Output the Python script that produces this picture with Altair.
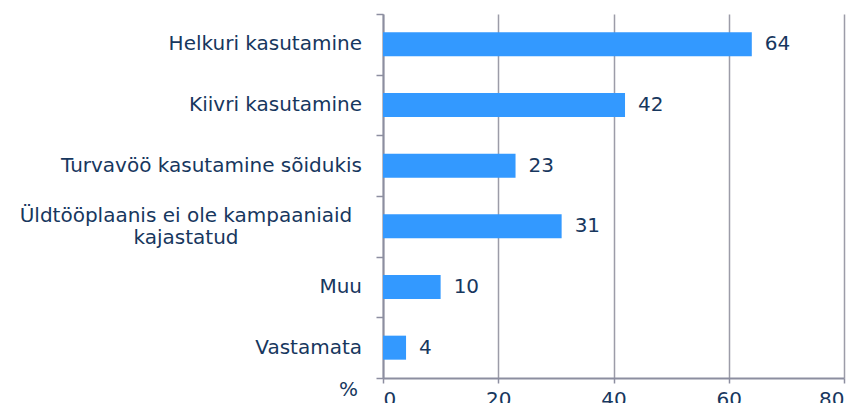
import altair as alt
import pandas as pd

categories = [
    "Helkuri kasutamine",
    "Kiivri kasutamine",
    "Turvavöö kasutamine sõidukis",
    "Üldtööplaanis ei ole kampaaniaid\nkajastatud",
    "Muu",
    "Vastamata",
]
values = [64, 42, 23, 31, 10, 4]
x_ticks = [0, 20, 40, 60, 80]

df = pd.DataFrame({"cat": categories, "val": values})
df["multi"] = df["cat"].str.contains("\n")

TEXT = "#17375E"
FONT = "DejaVu Sans"
FS = 20
AX = "#8C8EA0"

y = alt.Y("cat:N", sort=categories, title=None,
          scale=alt.Scale(paddingInner=0, paddingOuter=0),
          axis=alt.Axis(labels=False, tickBand="extent", domainColor=AX, tickColor=AX,
                        tickSize=7, domainWidth=2, tickWidth=1.5, grid=False))
x = alt.X("val:Q", title="%",
          scale=alt.Scale(domain=[0, 80], nice=False),
          axis=alt.Axis(values=x_ticks, grid=True, gridColor="#9C9CA8", gridWidth=1.5,
                        domainColor=AX, domainWidth=2, tickColor=AX, tickSize=5, tickWidth=1.5,
                        labelFont=FONT, labelFontSize=FS, labelColor=TEXT, labelPadding=6,
                        titleFont=FONT, titleFontSize=FS, titleColor=TEXT, titleFontWeight="normal",
                        titleX=-35, titleY=17, titleAlign="center", titleBaseline="alphabetic"))

base = alt.Chart(df)
bars = base.mark_bar(color="#3399FF", size=24).encode(x=x, y=y)
vals = base.mark_text(align="left", baseline="middle", dx=13, font=FONT, fontSize=FS,
                      color=TEXT).encode(x="val:Q", y=alt.Y("cat:N", sort=categories),
                                          text="val:Q")
lab1 = base.transform_filter("!datum.multi").mark_text(
    align="right", baseline="middle", font=FONT, fontSize=FS, color=TEXT
).encode(x=alt.value(-21), y=alt.Y("cat:N", sort=categories), text="cat:N")
lab2 = base.transform_filter("datum.multi").mark_text(
    align="center", baseline="middle", font=FONT, fontSize=FS, color=TEXT,
    lineBreak="\n", lineHeight=22, dy=-10
).encode(x=alt.value(-197), y=alt.Y("cat:N", sort=categories), text="cat:N")

chart = alt.layer(bars, vals, lab1, lab2).properties(
    width=461, height=364,
    autosize=alt.AutoSizeParams(type="none"),
    padding={"left": 375, "top": 6, "right": 5, "bottom": 25},
).configure(background="white").configure_view(stroke=None)

chart.save("out.html", embed_options={"renderer": "svg", "actions": False})
